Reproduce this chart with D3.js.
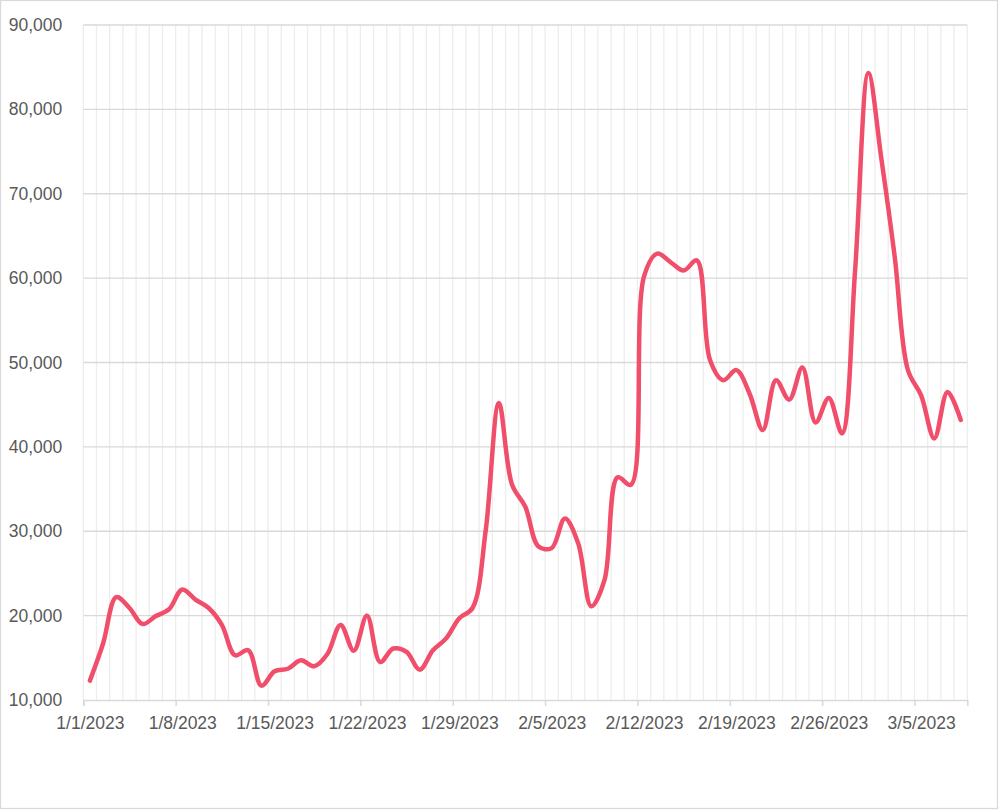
<!DOCTYPE html>
<html>
<head>
<meta charset="utf-8">
<script src="https://cdn.jsdelivr.net/npm/d3@7"></script>
<style>
  body { margin: 0; background: #fff; }
  svg { display: block; font-family: Carlito, Calibri, "Liberation Sans", sans-serif; }
</style>
</head>
<body>
<div id="chart"></div>
<script>
// daily values, 1/1/2023 .. 3/8/2023
const START_DATE = "2023-01-01";
const END_DATE = "2023-03-09"; // axis ends at the start of this day
const VALUES = [
  12300, 16700, 22200, 20900, 19000, 19950, 20750,
  23100, 21900, 20900, 18900, 15300, 15900, 11700,
  13400, 13700, 14700, 14000, 15450, 18900, 15850,
  20000, 14500, 16100, 15700, 13600, 15900, 17300,
  19700, 20900, 30100, 45200, 35500, 32900, 28200,
  28000, 31500, 28600, 21100, 24200, 36400, 35500,
  60200, 62900, 61900, 60900, 62100, 50300, 47900,
  49100, 46300, 42000, 47900, 45600, 49400, 42900,
  45800, 41600, 61000, 84300, 74000, 62500, 49100,
  46100, 41000, 46500, 43200
];
const TICK_LABELS = ["1/1/2023", "1/8/2023", "1/15/2023", "1/22/2023", "1/29/2023",
  "2/5/2023", "2/12/2023", "2/19/2023", "2/26/2023", "3/5/2023"];
const Y_TICKS = [10000, 20000, 30000, 40000, 50000, 60000, 70000, 80000, 90000];

const WIDTH = 999;
const HEIGHT = 810;
const LEFT = 83.3, RIGHT = 967.3, TOP = 25, BOTTOM = 700;
const LINE_COLOR = "#f04e6b";
const TEXT_COLOR = "#595959";
const FONT_SIZE = "17.5px";

const parse = d3.timeParse("%Y-%m-%d");
const parseLabel = d3.timeParse("%m/%d/%Y");
const start = parse(START_DATE);
const end = parse(END_DATE);
const days = d3.timeDay.range(start, end);

const data = VALUES.map((v, i) => ({ date: days[i], value: v }));

const x = d3.scaleTime().domain([start, end]).range([LEFT, RIGHT]);
const y = d3.scaleLinear().domain([10000, 90000]).range([BOTTOM, TOP]);
const halfDay = x(d3.timeHour.offset(start, 12)) - x(start);

const svg = d3.select("#chart").append("svg")
  .attr("width", WIDTH)
  .attr("height", HEIGHT);

// chart border
svg.append("rect")
  .attr("x", 0.5).attr("y", 0.5)
  .attr("width", 997).attr("height", 808)
  .attr("fill", "#fff")
  .attr("stroke", "#d9d9d9")
  .attr("stroke-width", 1.3);

// vertical day gridlines
svg.append("g")
  .selectAll("line")
  .data(d3.timeDay.range(start, d3.timeDay.offset(end, 1)))
  .join("line")
  .attr("x1", d => x(d)).attr("x2", d => x(d))
  .attr("y1", TOP).attr("y2", BOTTOM)
  .attr("stroke", "#ededed")
  .attr("stroke-width", 1.3);

// horizontal gridlines
svg.append("g")
  .selectAll("line")
  .data(Y_TICKS.slice(1))
  .join("line")
  .attr("x1", LEFT).attr("x2", RIGHT)
  .attr("y1", d => y(d)).attr("y2", d => y(d))
  .attr("stroke", "#d9d9d9")
  .attr("stroke-width", 1.3);

// y axis labels
const yAxis = svg.append("g")
  .attr("transform", `translate(${LEFT},0)`)
  .call(d3.axisLeft(y).tickValues(Y_TICKS).tickFormat(d3.format(",")).tickSize(0).tickPadding(21));
yAxis.select(".domain").remove();
yAxis.selectAll("text")
  .attr("fill", TEXT_COLOR)
  .attr("font-size", FONT_SIZE);

// x axis
const tickDates = TICK_LABELS.map(t => parseLabel(t));
const xAxis = svg.append("g")
  .attr("transform", `translate(0,${BOTTOM})`)
  .call(d3.axisBottom(x).tickValues(tickDates).tickSize(6).tickFormat((d, i) => TICK_LABELS[i]));
xAxis.select(".domain")
  .attr("stroke", "#d9d9d9")
  .attr("stroke-width", 1.5);
xAxis.selectAll(".tick line")
  .attr("stroke", "#d9d9d9")
  .attr("stroke-width", 1.5);
xAxis.selectAll("text")
  .attr("x", halfDay)
  .attr("y", 17)
  .attr("fill", TEXT_COLOR)
  .attr("font-size", FONT_SIZE);

// line
const line = d3.line()
  .x(d => x(d.date) + halfDay)
  .y(d => y(d.value))
  .curve(d3.curveCatmullRom.alpha(0.5));

svg.append("path")
  .datum(data)
  .attr("fill", "none")
  .attr("stroke", LINE_COLOR)
  .attr("stroke-width", 4.5)
  .attr("stroke-linecap", "round")
  .attr("stroke-linejoin", "round")
  .attr("d", line);
</script>
</body>
</html>
